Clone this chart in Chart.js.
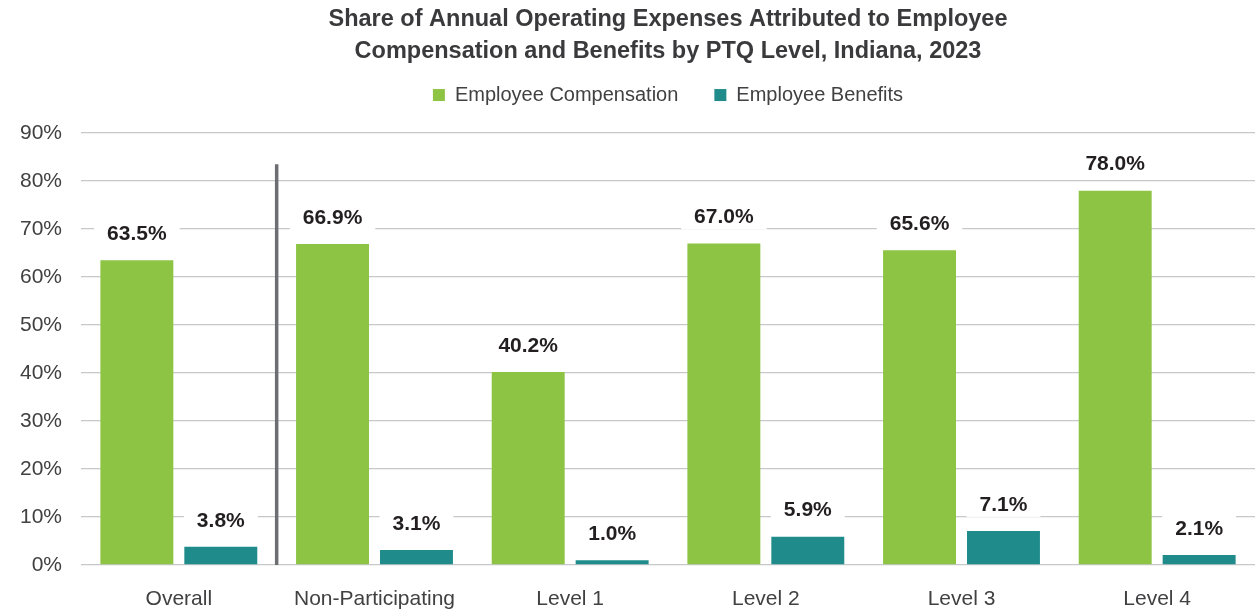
<!DOCTYPE html>
<html>
<head>
<meta charset="utf-8">
<script src="https://cdn.jsdelivr.net/npm/chart.js@4.4.1/dist/chart.umd.min.js"></script>
<style>
  body { margin: 0; background: #fff; }
  #wrap { width: 1255px; height: 612px; }
</style>
</head>
<body>
<div id="wrap"><canvas id="ptqChart" width="1255" height="612"></canvas></div>
<script>
"use strict";

const categories = ["Overall", "Non-Participating", "Level 1", "Level 2", "Level 3", "Level 4"];
const compensation = [63.5, 66.9, 40.2, 67.0, 65.6, 78.0];
const benefits = [3.8, 3.1, 1.0, 5.9, 7.1, 2.1];
const yMax = 90;
const yStep = 10;

const fontFace = "'Liberation Sans', Arial, sans-serif";
const textColor = "#414042";

// legend gets some extra room below it so the plot starts lower
const legendSpace = {
    id: "legendSpace",
    beforeInit(chart) {
        const fitLegend = chart.legend.fit;
        chart.legend.fit = function () {
            fitLegend.call(this);
            this.height += 18;
        };
    }
};

// grey divider between "Overall" and the PTQ levels
const divider = {
    id: "divider",
    afterDatasetsDraw(chart) {
        const x = chart.scales.x;
        const y = chart.scales.y;
        const xPos = (x.getPixelForValue(0) + x.getPixelForValue(1)) / 2;
        const ctx = chart.ctx;
        ctx.save();
        ctx.strokeStyle = "#6d6e71";
        ctx.lineWidth = 3.5;
        ctx.beginPath();
        ctx.moveTo(xPos, y.getPixelForValue(83.5));
        ctx.lineTo(xPos, y.getPixelForValue(0));
        ctx.stroke();
        ctx.restore();
    }
};

// value labels above each bar, on a white box that hides the grid
const barLabels = {
    id: "barLabels",
    afterDatasetsDraw(chart) {
        const ctx = chart.ctx;
        ctx.save();
        ctx.font = "bold 21px " + fontFace;
        ctx.textAlign = "center";
        ctx.textBaseline = "middle";
        chart.data.datasets.forEach(function (ds, di) {
            let meta = chart.getDatasetMeta(di);
            meta.data.forEach(function (bar, i) {
                let txt = ds.data[i].toFixed(1) + "%";
                let w = ctx.measureText(txt).width;
                let cy = bar.y - 27;
                ctx.fillStyle = "#ffffff";
                ctx.fillRect(bar.x - w / 2 - 13, cy - 13, w + 26, 26);
                ctx.fillStyle = "#231f20";
                ctx.fillText(txt, bar.x, cy + 1);
            });
        });
        ctx.restore();
    }
};

let ctxChart = document.getElementById("ptqChart").getContext("2d");
let ptqChart = new Chart(ctxChart, {
    type: "bar",
    data: {
        labels: categories,
        datasets: [
            {
                label: "Employee Compensation",
                data: compensation,
                backgroundColor: "#8dc443",
                categoryPercentage: 0.858,
                barPercentage: 0.869
            },
            {
                label: "Employee Benefits",
                data: benefits,
                backgroundColor: "#1f8b8b",
                categoryPercentage: 0.858,
                barPercentage: 0.869
            }
        ]
    },
    options: {
        responsive: false,
        animation: false,
        layout: { padding: 0 },
        plugins: {
            title: {
                display: true,
                fullSize: false,
                text: ["Share of Annual Operating Expenses Attributed to Employee",
                       "Compensation and Benefits by PTQ Level, Indiana, 2023"],
                color: "#3a3a3c",
                font: { family: fontFace, size: 23.5, weight: "bold", lineHeight: 1.32 },
                padding: { top: 4.5, bottom: -17.5 }
            },
            legend: {
                display: true,
                fullSize: false,
                labels: {
                    boxWidth: 12,
                    boxHeight: 12,
                    padding: 36,
                    color: textColor,
                    font: { family: fontFace, size: 20 }
                }
            },
            tooltip: { enabled: false }
        },
        scales: {
            x: {
                grid: { display: false, drawTicks: false },
                border: { display: false },
                ticks: {
                    color: textColor,
                    font: { family: fontFace, size: 21 },
                    padding: 22
                },
                afterFit: function (scale) { scale.height = 47; }
            },
            y: {
                min: 0,
                max: yMax,
                grid: { color: "#c7c8ca", lineWidth: 1.3, drawTicks: false },
                border: { display: false },
                ticks: {
                    stepSize: yStep,
                    color: textColor,
                    font: { family: fontFace, size: 21 },
                    padding: 19,
                    callback: function (v) { return v + "%"; }
                },
                afterFit: function (scale) { scale.width = 81; }
            }
        }
    },
    plugins: [legendSpace, divider, barLabels]
});
</script>
</body>
</html>
